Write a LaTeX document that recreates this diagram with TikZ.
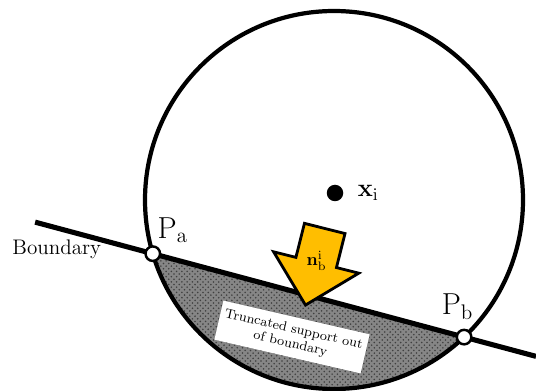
\documentclass[tikz,border=0pt]{standalone}
\usepackage{amsmath,amssymb}
\usetikzlibrary{positioning,calc,shapes.arrows,patterns}
\definecolor{sarga}{RGB}{255,190,0}
\tikzset{
  rim/.style={line width=2.4pt},
  bline/.style={line width=2.9pt},
  endpt/.style={circle,draw,fill=white,line width=1.4pt,minimum size=2.9mm,inner sep=0pt},
  ctr/.style={circle,fill,minimum size=3.3mm,inner sep=0pt},
  push/.style={single arrow,draw,line width=1.6pt,fill=sarga,minimum height=15.8mm,
    inner xsep=0pt,inner ysep=3.9mm,single arrow head extend=4.6mm},
  tag/.style={fill=white,align=center,font=\fontsize{7.6}{8.4}\selectfont,inner sep=2pt,
    minimum width=30mm,minimum height=8mm},
}
\begin{document}
\begin{tikzpicture}[x=0.2mm,y=0.2mm,font=\large]
  \useasboundingbox (0,0) rectangle (536,390);
  \coordinate (C) at (334,190);
  \coordinate (A) at ($(C)+(196.5:189)$);
  \coordinate (B) at ($(C)+(313.5:189)$);
  \coordinate (L) at ($(A)!-0.378!(B)$);
  \coordinate (R) at ($(B)!-0.231!(A)$);
  % part of the support cut off by the boundary
  \fill[gray!95] (A) arc[start angle=196.5,end angle=313.5,radius=189] -- cycle;
  \fill[pattern=crosshatch dots,pattern color=gray!50!black]
    (A) arc[start angle=196.5,end angle=313.5,radius=189] -- cycle;
  \draw[rim] (C) circle[radius=189];
  \draw[bline] (L) -- (R);
  \node[ctr] (xi) at (335,197) {};
  \node[right=1.6mm of xi,font=\Large] (xilab) {$\mathbf{x}_{\mathrm{i}}$};
  \node[push,anchor=tip,rotate=255.9] (nrm) at (305,83) {};
  \node (nlab) at ($(nrm.tail)!0.42!(nrm.tip)$) {\normalsize$\mathbf{n}_{\mathrm{b}}^{\mathrm{i}}$};
  \node[tag,rotate=-13] (trunc) at (292,53) {Truncated support out\\of boundary};
  \node[endpt] (Pa) at (A) {};
  \node[endpt] (Pb) at (B) {};
  \node[above=0.4mm of Pa,xshift=4mm,inner sep=0pt,font=\LARGE] (palab) {$\mathrm{P_a}$};
  \node[above=1.8mm of Pb,xshift=-1.3mm,inner sep=0pt,font=\LARGE] (pblab) {$\mathrm{P_b}$};
  \node[below right=3.4mm and -4.6mm of L,inner sep=0pt] (bnd) {Boundary};
\end{tikzpicture}
\end{document}
